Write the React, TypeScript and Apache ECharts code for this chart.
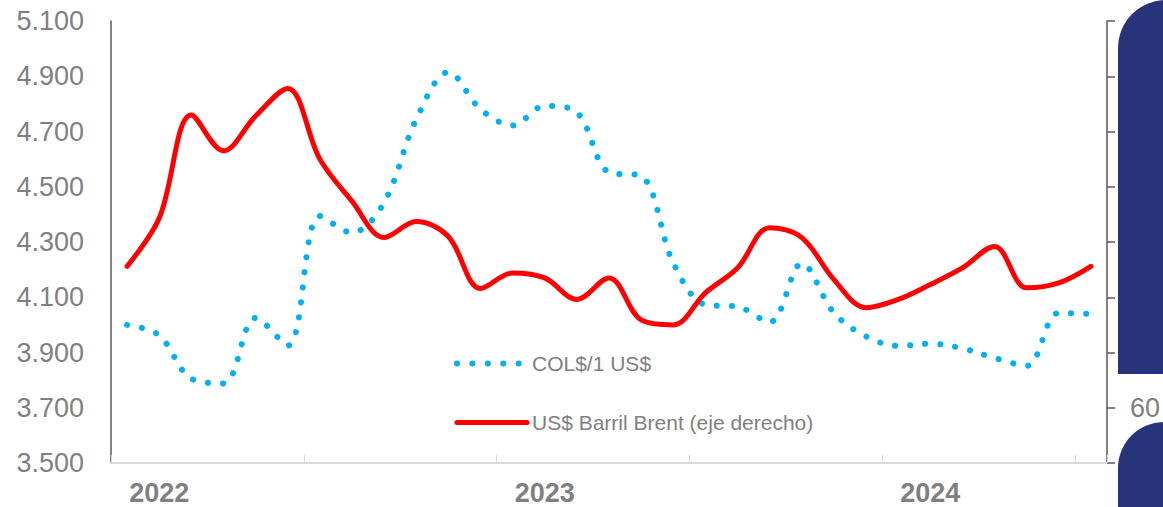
import React, { useEffect, useRef } from "react";
import * as echarts from "echarts";

const months = [
  "ene-22", "feb-22", "mar-22", "abr-22", "may-22", "jun-22", "jul-22", "ago-22", "sep-22", "oct-22", "nov-22", "dic-22",
  "ene-23", "feb-23", "mar-23", "abr-23", "may-23", "jun-23", "jul-23", "ago-23", "sep-23", "oct-23", "nov-23", "dic-23",
  "ene-24", "feb-24", "mar-24", "abr-24", "may-24", "jun-24", "jul-24",
];

const yearLabels = ["2022", "2023", "2024"];

const copUsd = [
  4000, 3962, 3805, 3788, 4025, 3925, 4394, 4334, 4443, 4744, 4915, 4781,
  4722, 4793, 4769, 4552, 4539, 4225, 4073, 4066, 4010, 4222, 4044, 3958,
  3924, 3932, 3915, 3880, 3852, 4043, 4040,
];

const brent = [
  85.6, 94.3, 113.0, 106.5, 112.8, 117.8, 105.0, 97.4, 90.8, 93.7, 91.0, 81.6,
  84.4, 83.5, 79.6, 83.5, 75.9, 75.0, 80.8, 85.3, 92.6, 90.8, 83.2, 78.1,
  79.6, 82.3, 85.3, 89.2, 81.7, 82.6, 85.6,
];

const leftTicks = { min: 3500, max: 5100, step: 200 };
const rightTicks = { min: 50, max: 130, step: 10 };
const rightVisibleLabels = [60];

const seriesNames = ["COL$/1 US$", "US$ Barril Brent (eje derecho)"];

const FONT = '"Liberation Sans", Arial, sans-serif';
const GRAY = "#808080";
const NAVY = "#27347A";
const BLUE = "#00B0F0";
const RED = "#FF0000";

function fmtThousands(v: number): string {
  const s = Math.round(v).toString();
  return s.replace(/\B(?=(\d{3})+(?!\d))/g, ".");
}

export default function App() {
  const ref = useRef<HTMLDivElement>(null);

  useEffect(() => {
    if (!ref.current) return;
    document.body.style.margin = "0";
    document.body.style.overflow = "hidden";
    const chart = echarts.init(ref.current, null, { renderer: "svg" });
    chart.setOption({
      animation: false,
      backgroundColor: "#ffffff",
      textStyle: { fontFamily: FONT },
      grid: {
        left: 111,
        width: 996,
        top: 21,
        height: 442,
        containLabel: false,
        outerBoundsMode: "none",
      },
      legend: {
        orient: "vertical",
        left: 449,
        top: 348,
        itemGap: 38,
        itemWidth: 70,
        itemHeight: 16,
        itemStyle: { opacity: 0, borderWidth: 0 },
        textStyle: { fontSize: 21, color: GRAY, fontFamily: FONT },
        data: [
          {
            name: seriesNames[0],
            itemStyle: { opacity: 0, borderWidth: 0 },
            lineStyle: { color: BLUE, width: 6, type: [0.1, 15.3], cap: "round" },
          },
          {
            name: seriesNames[1],
            itemStyle: { opacity: 0, borderWidth: 0 },
            lineStyle: { color: RED, width: 5, type: "solid", cap: "round" },
          },
        ],
      },
      xAxis: {
        type: "category",
        data: months,
        boundaryGap: true,
        axisLine: { show: true, lineStyle: { color: "#d9d9d9", width: 2 } },
        axisTick: {
          show: true,
          inside: true,
          length: 8,
          interval: 5,
          alignWithLabel: false,
          lineStyle: { color: "#d9d9d9", width: 1 },
        },
        axisLabel: {
          interval: (idx: number) => idx % 12 === 1,
          formatter: (_v: string, idx: number) => yearLabels[Math.floor(idx / 12)] ?? "",
          fontSize: 27,
          fontWeight: "bold",
          color: GRAY,
          margin: 16,
          fontFamily: FONT,
        },
        splitLine: { show: false },
      },
      yAxis: [
        {
          type: "value",
          min: leftTicks.min,
          max: leftTicks.max,
          interval: leftTicks.step,
          position: "left",
          axisLine: { show: true, lineStyle: { color: "#595959", width: 1.5 } },
          axisTick: { show: false },
          splitLine: { show: false },
          axisLabel: {
            formatter: (v: number) => fmtThousands(v),
            fontSize: 27,
            color: GRAY,
            margin: 27,
            fontFamily: FONT,
          },
        },
        {
          type: "value",
          min: rightTicks.min,
          max: rightTicks.max,
          interval: rightTicks.step,
          position: "right",
          axisLine: { show: true, lineStyle: { color: "#595959", width: 1.5 } },
          axisTick: { show: true, inside: false, length: 8, lineStyle: { color: "#595959", width: 1.5 } },
          splitLine: { show: false },
          axisLabel: {
            formatter: (v: number) => (rightVisibleLabels.includes(v) ? String(v) : ""),
            fontSize: 27,
            color: GRAY,
            margin: 23,
            fontFamily: FONT,
          },
        },
      ],
      series: [
        {
          name: seriesNames[0],
          type: "line",
          data: copUsd,
          yAxisIndex: 0,
          smooth: 0.35,
          symbol: "none",
          itemStyle: { color: BLUE },
          lineStyle: { color: BLUE, width: 6, type: [0.1, 15], cap: "round" },
        },
        {
          name: seriesNames[1],
          type: "line",
          data: brent,
          yAxisIndex: 1,
          smooth: 0.35,
          symbol: "none",
          itemStyle: { color: RED },
          lineStyle: { color: RED, width: 5, cap: "round" },
        },
      ],
      graphic: [
        {
          type: "rect",
          z: 100,
          shape: { x: 1118, y: 0, width: 120, height: 374, r: [48, 0, 0, 0] },
          style: { fill: NAVY },
        },
        {
          type: "rect",
          z: 100,
          shape: { x: 1118, y: 422, width: 120, height: 120, r: [46, 0, 0, 0] },
          style: { fill: NAVY },
        },
      ],
    });
    return () => chart.dispose();
  }, []);

  return (
    <div
      ref={ref}
      style={{ position: "fixed", left: 0, top: 0, width: 1163, height: 507, background: "#fff" }}
    />
  );
}
